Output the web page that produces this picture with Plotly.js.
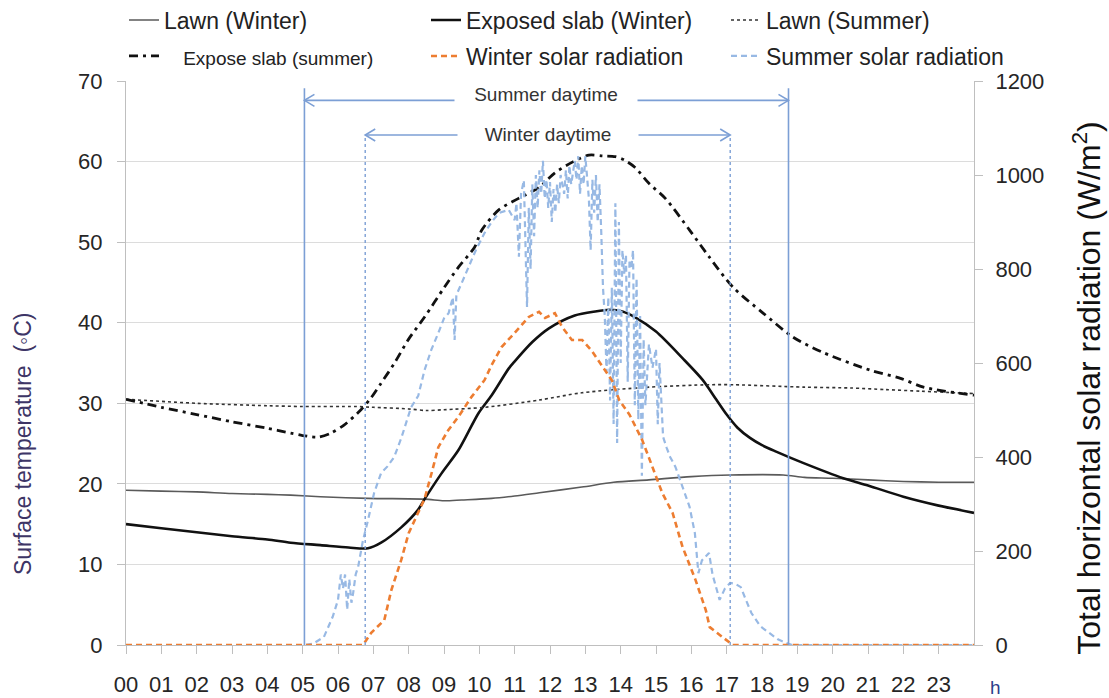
<!DOCTYPE html>
<html>
<head>
<meta charset="utf-8">
<script src="https://cdn.plot.ly/plotly-3.0.1.min.js"></script>
<style>html,body{margin:0;padding:0;background:#fff;}#chart{width:1109px;height:698px;}</style>
</head>
<body>
<div id="chart"></div>
<script>
// ---------- DATA ----------
const hourTickVals = [0,1,2,3,4,5,6,7,8,9,10,11,12,13,14,15,16,17,18,19,20,21,22,23];
const hourTickText = ["00","01","02","03","04","05","06","07","08","09","10","11","12","13","14","15","16","17","18","19","20","21","22","23"];

const lawnWinterHour = [0,1,2,3,4,4.66,5.5,6.85,8.45,9.0,9.5,10.35,11.0,11.7,12.9,13.8,14.8,16,17.1,18.6,19.2,20,21,22,23,24];
const lawnWinterTemp = [19.2,19.1,19.0,18.8,18.7,18.6,18.4,18.2,18.1,17.9,18.0,18.2,18.5,18.9,19.6,20.2,20.5,20.9,21.1,21.1,20.8,20.7,20.5,20.3,20.2,20.2];

const slabWinterHour = [0,1,2,3,4,4.66,5.5,6.3,6.85,7.22,7.79,8.27,8.45,8.93,9.41,9.98,10.35,10.83,11.0,11.5,11.97,12.7,13.28,13.7,14.05,14.4,15.0,15.75,16.32,16.7,17.0,17.3,17.66,18.0,18.4,19.16,20.3,21,22,23,24];
const slabWinterTemp = [15.0,14.5,14.0,13.5,13.1,12.7,12.4,12.1,12.0,12.7,14.6,16.8,18.1,21.3,24.2,28.8,31.0,34.3,35.2,37.6,39.3,40.9,41.4,41.6,41.4,40.7,38.9,35.6,32.9,30.5,28.6,27.0,25.7,24.8,24.0,22.6,20.7,19.8,18.4,17.3,16.4];

const lawnSummerHour = [0,2,4,5,6.5,7,8,8.5,9.0,10.15,11.69,12.9,14.8,16.5,17.2,19.2,20.5,21.5,22.5,23.5,24];
const lawnSummerTemp = [30.5,30.0,29.7,29.6,29.6,29.5,29.3,29.1,29.2,29.5,30.4,31.3,32.0,32.3,32.3,32.0,31.9,31.7,31.5,31.3,31.2];

const slabSummerHour = [0,1,2,3,4,4.66,5.0,5.43,5.8,6.17,6.65,6.94,7.22,7.6,7.99,8.45,9.01,9.41,9.87,10.07,10.55,11.1,11.69,12.14,12.62,13.1,13.48,13.85,14.1,14.4,14.8,15.27,15.95,16.5,17.18,18.03,18.88,19.73,21.07,21.92,22.57,24];
const slabSummerTemp = [30.5,29.5,28.6,27.7,26.9,26.3,26.0,25.8,26.3,27.3,29.2,30.7,32.5,35.0,37.9,40.7,44.4,46.9,49.4,51.5,54.0,55.4,56.8,58.6,59.9,60.8,60.7,60.6,60.2,59.3,57.3,55.4,51.5,48.2,44.4,41.2,38.2,36.3,34.1,33.1,32.0,31.0];

const winterSolarHour = [0,6.71,6.94,7.31,7.51,7.79,8.0,8.25,8.45,8.65,8.84,9.12,9.41,9.78,10.15,10.35,10.63,11.0,11.4,11.69,11.86,12.14,12.34,12.62,12.91,13.19,13.48,13.76,13.96,14.25,14.61,14.9,15.18,15.47,15.75,16.12,16.41,16.52,16.89,17.17,24];
const winterSolarWm2 = [0,0,26,53,117,181,238,280,311,366,421,457,486,528,564,596,634,664,698,709,696,706,677,649,649,625,592,562,521,490,436,379,323,281,209,138,74,38,17,0,0];

const summerSolarHour = [0,5.05,5.3,5.6,5.85,6.0,6.08,6.14,6.2,6.26,6.32,6.38,6.43,6.5,6.57,6.7,6.85,7.02,7.22,7.4,7.59,7.79,8.07,8.27,8.45,8.64,8.84,9.0,9.13,9.25,9.3,9.35,9.5,9.7,9.9,10.15,10.35,10.55,10.83,11.0,11.05,11.12,11.18,11.26,11.3,11.35,11.4,11.45,11.5,11.55,11.6,11.65,11.7,11.75,11.8,11.85,11.9,11.95,12.0,12.05,12.1,12.15,12.2,12.25,12.3,12.4,12.45,12.5,12.55,12.6,12.7,12.75,12.8,12.85,12.9,12.95,13.0,13.05,13.1,13.15,13.2,13.25,13.3,13.35,13.4,13.45,13.5,13.55,13.6,13.65,13.7,13.75,13.8,13.85,13.9,13.95,14.0,14.05,14.1,14.15,14.2,14.25,14.3,14.35,14.4,14.45,14.5,14.55,14.6,14.65,14.7,14.8,14.9,15.0,15.05,15.1,15.2,15.3,15.4,15.55,15.75,15.95,16.1,16.2,16.3,16.5,16.6,16.8,16.95,17.1,17.25,17.4,17.55,17.7,17.95,18.2,18.45,18.7,18.85,24];
const summerSolarWm2 = [0,0,3,17,60,96,150,120,150,75,140,90,111,150,166,220,266,323,366,380,400,440,506,530,585,628,664,695,706,740,649,745,770,804,840,877,900,919,926,904,940,826,960,989,850,719,930,800,980,870,1000,930,1010,960,1030,950,990,930,985,900,970,920,980,940,1000,960,1010,950,1020,980,1030,990,1040,960,1020,980,1040,1000,950,840,990,920,1000,900,980,880,760,700,580,740,520,760,470,940,430,900,600,840,790,830,560,820,800,840,510,780,480,700,360,650,510,640,590,630,470,600,443,420,400,379,336,294,238,153,180,196,150,96,120,132,130,123,95,68,40,26,12,4,0,0];

const summerDaytime = [5.05, 18.75];
const winterDaytime = [6.77, 17.1];
const summerArrowLevel = 67.6;  // on the °C scale: where the "Summer daytime" arrow sits
const winterArrowLevel = 63.3;

// ---------- STYLE ----------
const FONT = "Liberation Sans, Arial, sans-serif";
const BLUE_LINE = "#7c9fd5";

const traces = [
  {x: summerSolarHour, y: summerSolarWm2, yaxis: "y2", name: "Summer solar radiation", legend: "legend6",
   mode: "lines", line: {color: "#98b9e4", width: 2.2, dash: "6px,4px"}},
  {x: winterSolarHour, y: winterSolarWm2, yaxis: "y2", name: "Winter solar radiation", legend: "legend5",
   mode: "lines", line: {color: "#ed7d31", width: 2.6, dash: "6px,4px"}},
  {x: lawnWinterHour, y: lawnWinterTemp, name: "Lawn (Winter)", legend: "legend",
   mode: "lines", line: {color: "#5a5a5a", width: 1.6, shape: "spline", smoothing: 0.8}},
  {x: slabWinterHour, y: slabWinterTemp, name: "Exposed slab (Winter)", legend: "legend2",
   mode: "lines", line: {color: "#111111", width: 2.6, shape: "spline", smoothing: 0.8}},
  {x: lawnSummerHour, y: lawnSummerTemp, name: "Lawn (Summer)", legend: "legend3",
   mode: "lines", line: {color: "#333333", width: 1.6, dash: "3px,3px", shape: "spline", smoothing: 0.8}},
  {x: slabSummerHour, y: slabSummerTemp, name: '&nbsp;&nbsp;&nbsp;<span style="font-size:19px">Expose slab (summer)</span>', legend: "legend4",
   mode: "lines", line: {color: "#111111", width: 2.8, dash: "9px,5px,3px,5px", shape: "spline", smoothing: 0.8}}
];

function chevron(x, y, dir) {
  // open arrow head, sized in pixels, anchored at a data point
  const d = dir < 0 ? "M 10 6 L 0 0 L 10 -6" : "M -10 6 L 0 0 L -10 -6";
  return {type: "path", xref: "x", yref: "y", xsizemode: "pixel", ysizemode: "pixel",
          xanchor: x, yanchor: y, path: d, line: {color: BLUE_LINE, width: 1.6}};
}

const shapes = [
  {type: "line", xref: "x", yref: "y", x0: summerDaytime[0], x1: summerDaytime[0], y0: 0, y1: 69.1, line: {color: BLUE_LINE, width: 1.6}},
  {type: "line", xref: "x", yref: "y", x0: summerDaytime[1], x1: summerDaytime[1], y0: 0, y1: 69.1, line: {color: BLUE_LINE, width: 1.6}},
  {type: "line", xref: "x", yref: "y", x0: winterDaytime[0], x1: winterDaytime[0], y0: 0, y1: winterArrowLevel, line: {color: BLUE_LINE, width: 1.4, dash: "dot"}},
  {type: "line", xref: "x", yref: "y", x0: winterDaytime[1], x1: winterDaytime[1], y0: 0, y1: winterArrowLevel, line: {color: BLUE_LINE, width: 1.4, dash: "dot"}},
  {type: "line", xref: "x", yref: "y", x0: summerDaytime[0], x1: summerDaytime[1], y0: summerArrowLevel, y1: summerArrowLevel, line: {color: BLUE_LINE, width: 1.6}},
  {type: "line", xref: "x", yref: "y", x0: winterDaytime[0], x1: winterDaytime[1], y0: winterArrowLevel, y1: winterArrowLevel, line: {color: BLUE_LINE, width: 1.6}},
  chevron(summerDaytime[0], summerArrowLevel, -1),
  chevron(summerDaytime[1], summerArrowLevel, 1),
  chevron(winterDaytime[0], winterArrowLevel, -1),
  chevron(winterDaytime[1], winterArrowLevel, 1)
];

const annotations = [
  {text: "Summer daytime", x: 11.9, y: summerArrowLevel, xref: "x", yref: "y", showarrow: false, yshift: 6,
   width: 180, bgcolor: "#ffffff", font: {family: FONT, size: 19, color: "#333333"}},
  {text: "Winter daytime", x: 11.95, y: winterArrowLevel, xref: "x", yref: "y", showarrow: false,
   width: 178, bgcolor: "#ffffff", font: {family: FONT, size: 19, color: "#333333"}},
  {text: "h", xref: "paper", yref: "paper", x: 1.0, y: 0, xanchor: "center", yanchor: "top",
   xshift: 21, yshift: -30, showarrow: false, font: {family: FONT, size: 19, color: "#2b3f8c"}},
  {text: "Surface temperature  (◦C)", xref: "paper", yref: "paper", x: -0.1215, y: 0.358, textangle: -90,
   xanchor: "center", yanchor: "middle", showarrow: false, font: {family: FONT, size: 23, color: "#3d3566"}},
  {text: "Total horizontal solar radiation (W/m<sup>2</sup>)", xref: "paper", yref: "paper", x: 1.133, y: 0.4557, textangle: -90,
   xanchor: "center", yanchor: "middle", showarrow: false, font: {family: FONT, size: 32, color: "#111111"}}
];

function legendAt(xpx, ypx) {
  return {orientation: "h", xref: "container", yref: "container", x: xpx / 1109, y: 1 - ypx / 698,
    xanchor: "left", yanchor: "middle", bgcolor: "rgba(0,0,0,0)",
    font: {family: FONT, size: 23, color: "#222222"}};
}

const layout = {
  width: 1109, height: 698,
  margin: {l: 126, r: 135, t: 81, b: 53, autoexpand: false},
  paper_bgcolor: "#ffffff", plot_bgcolor: "#ffffff",
  font: {family: FONT, color: "#222222"},
  showlegend: true,
  hovermode: false,
  xaxis: {range: [0, 24], tickmode: "array", tickvals: hourTickVals, ticktext: hourTickText,
    showgrid: false, zeroline: false, showline: true, linecolor: "#bfbfbf", linewidth: 1,
    ticks: "outside", ticklen: 8, tickcolor: "#bfbfbf", ticklabelstandoff: 12,
    tickfont: {family: FONT, size: 22, color: "#262626"}},
  yaxis: {range: [0, 70], dtick: 10, showgrid: true, gridcolor: "#dcdcdc", gridwidth: 1,
    zeroline: false, showline: true, linecolor: "#bfbfbf", ticks: "outside", ticklen: 8, tickcolor: "#bfbfbf",
    ticklabelstandoff: 10, tickfont: {family: FONT, size: 22, color: "#262626"}},
  yaxis2: {range: [0, 1200], dtick: 200, overlaying: "y", side: "right", showgrid: false, zeroline: false,
    showline: true, linecolor: "#bfbfbf", ticks: "outside", ticklen: 8, tickcolor: "#bfbfbf",
    ticklabelstandoff: 8, tickfont: {family: FONT, size: 22, color: "#262626"}},
  legend: legendAt(124, 20),
  legend2: legendAt(426, 20),
  legend3: legendAt(726, 20),
  legend4: legendAt(124, 56),
  legend5: legendAt(426, 56),
  legend6: legendAt(726, 56),
  shapes: shapes,
  annotations: annotations
};

Plotly.newPlot("chart", traces, layout, {displayModeBar: false, staticPlot: true});
</script>
</body>
</html>
